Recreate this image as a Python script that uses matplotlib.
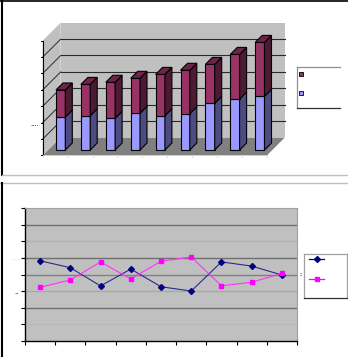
import numpy as np
import matplotlib
matplotlib.use('Agg')
import matplotlib.pyplot as plt
from matplotlib.patches import Polygon, Rectangle

# data (no labels are visible in the reference)
bar_cats = np.arange(9)
bar_lower = [2.00, 2.09, 1.93, 2.24, 2.09, 2.21, 2.85, 3.11, 3.27]
bar_upper = [1.66, 1.91, 2.20, 2.13, 2.52, 2.65, 2.37, 2.72, 3.29]

line_cats = np.arange(9)
line_navy = [4.83, 4.41, 3.31, 4.33, 3.26, 3.00, 4.76, 4.51, 3.97]
line_pink = [3.23, 3.67, 4.76, 3.73, 4.80, 5.06, 3.32, 3.53, 4.07]

W, H = 348, 357
fig = plt.figure(figsize=(W / 100, H / 100), dpi=100)
fig.patch.set_facecolor('white')

# ---- top panel: fake 3D stacked columns ----
sx, sy = 24.9, 16.4          # px per category / per unit
x0px, y0px = 48.2, 150.0     # origin of the bar plane in pixels
ax1 = fig.add_axes([0, 0, 1, 1])
ax1.set_xlim(-x0px / sx, (W - x0px) / sx)
ax1.set_ylim((y0px - H) / sy, y0px / sy)
ax1.axis('off')

def off(px):
    return px / sx, px / sy

fdx, fdy = off(-5.5)   # front of floor
bdx, bdy = off(12.5)   # back wall
ddx, ddy = off(7.0)    # bar depth
ymax = 7
n = len(bar_cats)

ax1.add_patch(Polygon([(bdx, bdy), (n + bdx, bdy), (n + bdx, ymax + bdy), (bdx, ymax + bdy)],
                      closed=True, facecolor='#c0c0c0', edgecolor='none', zorder=1))
ax1.add_patch(Polygon([(fdx, fdy), (fdx, ymax + fdy), (bdx, ymax + bdy), (bdx, bdy)],
                      closed=True, facecolor='#c0c0c0', edgecolor='none', zorder=1))
ax1.add_patch(Polygon([(fdx, fdy), (n + fdx, fdy), (n + bdx, bdy), (bdx, bdy)],
                      closed=True, facecolor='#808080', edgecolor='none', zorder=2))
for v in range(1, ymax):
    ax1.plot([bdx, n + bdx], [v + bdy, v + bdy], color='#2a2a2a', lw=0.8, zorder=1.5)
    ax1.plot([fdx, bdx], [v + fdy, v + bdy], color='#2a2a2a', lw=0.7, zorder=1.5)
# front value axis
ax1.plot([fdx, fdx], [fdy, ymax + fdy], color='black', lw=0.8, zorder=3)
for v in range(0, ymax + 1):
    ax1.plot([fdx - 2 / sx, fdx], [v + fdy, v + fdy], color='black', lw=0.7, zorder=3)
# front category axis
ax1.plot([fdx, n + fdx], [fdy, fdy], color='#d0d0d0', lw=0.7, zorder=3)
for i in range(n + 1):
    ax1.plot([i + fdx, i + fdx], [fdy, fdy - 2 / sy], color='#d8d8d8', lw=0.6, zorder=3)

w = 9.3 / sx
for i, lo, up in zip(bar_cats, bar_lower, bar_upper):
    c = i + 0.5
    l, r = c - w / 2, c + w / 2
    tot = lo + up
    ax1.bar(c, lo, width=w, color='#9999ff', edgecolor='black', lw=0.8, zorder=4)
    ax1.add_patch(Polygon([(r, 0), (r + ddx, ddy), (r + ddx, lo + ddy), (r, lo)],
                          closed=True, facecolor='#4c4c80', edgecolor='black', lw=0.8, zorder=4))
    ax1.bar(c, up, bottom=lo, width=w, color='#993366', edgecolor='black', lw=0.8, zorder=4)
    ax1.add_patch(Polygon([(r, lo), (r + ddx, lo + ddy), (r + ddx, tot + ddy), (r, tot)],
                          closed=True, facecolor='#4d1a33', edgecolor='black', lw=0.8, zorder=4))
    ax1.add_patch(Polygon([(l, tot), (l + ddx, tot + ddy), (r + ddx, tot + ddy), (r, tot)],
                          closed=True, facecolor='#6e2448', edgecolor='black', lw=0.8, zorder=4))

# ---- bottom panel: line chart ----
ax2 = fig.add_axes([25 / W, (H - 340.7) / H, 272 / W, 132.4 / H])
ax2.set_facecolor('#c0c0c0')
ax2.set_xlim(0, 9)
ax2.set_ylim(0, 8)
grid_cols = ['#b8b8b8', '#707070', '#a8a8a8', '#808080', '#707070', '#b0b0b0', '#707070']
for v, gc in zip(range(1, 8), grid_cols):
    ax2.axhline(v, color=gc, lw=1.0, zorder=1)
ax2.plot(line_cats + 0.5, line_navy, color='#2a2a8a', lw=0.8, marker='D', ms=3,
         mfc='#000080', mec='#000080', zorder=3)
ax2.plot(line_cats + 0.5, line_pink, color='#ff33ff', lw=0.8, marker='s', ms=3.2,
         mfc='#ff00ff', mec='#ff00ff', zorder=3)
ax2.set_xticks(range(10))
ax2.set_yticks(range(9))
ax2.set_xticklabels([])
ax2.set_yticklabels([])
ax2.tick_params(length=3, width=0.8, direction='out', color='black')
for s in ['left', 'bottom']:
    ax2.spines[s].set_color('black')
    ax2.spines[s].set_linewidth(1.0)
for s in ['top', 'right']:
    ax2.spines[s].set_color('#a0a0a0')
    ax2.spines[s].set_linewidth(0.8)

# ---- overlay: frames, legends, stray label glyphs ----
ov = fig.add_axes([0, 0, 1, 1], zorder=10)
ov.set_xlim(0, W)
ov.set_ylim(H, 0)
ov.axis('off')
ov.patch.set_alpha(0)

ov.plot([1.5, 1.5], [0, 175], color='black', lw=1.5)
ov.plot([0, W], [0.5, 0.5], color='black', lw=1.2)
ov.plot([2, W], [175.3, 175.3], color='#c0c0c0', lw=1.0)
ov.plot([0, W], [182.7, 182.7], color='#c0c0c0', lw=1.0)
ov.plot([1.5, 1.5], [183, H], color='black', lw=1.5)

# legend of the columns
ov.plot([297, 340], [67.3, 67.3], color='#909090', lw=0.9)
ov.plot([297, 297], [67.3, 108.3], color='#909090', lw=0.9)
ov.plot([297, 340], [108.3, 108.3], color='#303030', lw=0.9)
ov.add_patch(Rectangle((299, 72), 4, 4, facecolor='#993366', edgecolor='black', lw=0.6))
ov.add_patch(Rectangle((299, 91.3), 4, 4, facecolor='#9999ff', edgecolor='black', lw=0.6))

# legend of the lines
ov.plot([304.3, 346.7], [254, 254], color='#a0a0a0', lw=0.9)
ov.plot([304.3, 304.3], [254, 298.3], color='#a0a0a0', lw=0.9)
ov.plot([346.7, 346.7], [254, 298.3], color='#a0a0a0', lw=0.9)
ov.plot([304.3, 346.7], [298.3, 298.3], color='#303030', lw=0.9)
ov.plot([309.3, 316.7, 324], [258.7, 258.7, 258.7], color='#000080', lw=0.9, marker='D', ms=3,
        markevery=[1])
ov.plot([309.3, 316.7, 324], [279, 279, 279], color='#ff00ff', lw=0.9, marker='s', ms=3.2,
        markevery=[1])

ov.text(39, 124, '....', fontsize=5, color='black', ha='right', va='center')
ov.text(20, 259, '. . .', fontsize=4, color='#b0b0b0', ha='right', va='center')
ov.text(19, 292, '..', fontsize=5, color='black', ha='right', va='center')
ov.text(300, 274.3, ':', fontsize=4, color='black', ha='center', va='center', fontweight='bold')

fig.savefig('out.png', dpi=100)
